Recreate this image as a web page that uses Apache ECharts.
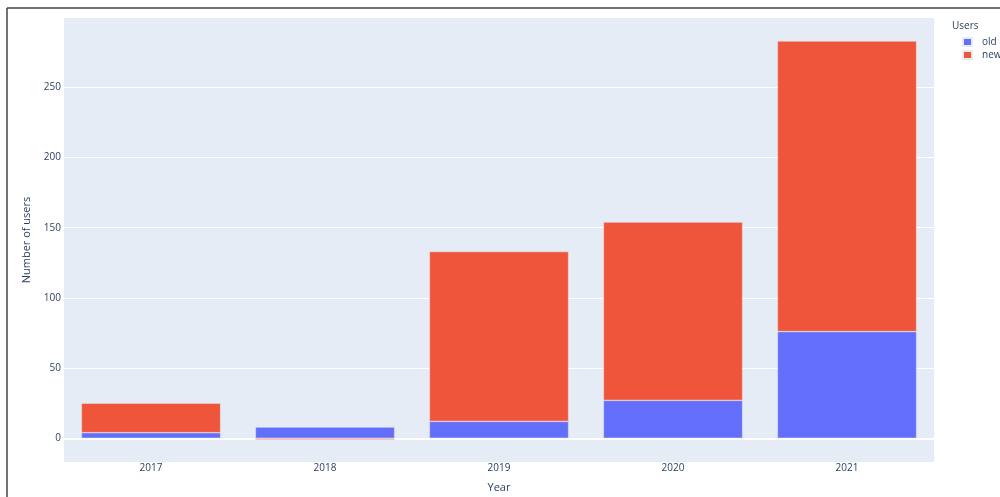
<!DOCTYPE html>
<html>
<head>
<meta charset="utf-8">
<script src="https://cdn.jsdelivr.net/npm/echarts@6/dist/echarts.min.js"></script>
<style>
html,body{margin:0;padding:0;background:#fff;}
#chart{width:1000px;height:497px;}
</style>
</head>
<body>
<div id="chart"></div>
<script>
const years = ['2017', '2018', '2019', '2020', '2021'];
const oldUsers = [4, 8, 12, 27, 76];
const newUsers = [21, -1, 121, 127, 207];
const legendTitle = 'Users';
const xTitle = 'Year';
const yTitle = 'Number of users';

const FONT = '"Open Sans", "Noto Sans", sans-serif';
const TXT = '#2a3f5f';

const chart = echarts.init(document.getElementById('chart'), null, {renderer: 'canvas'});
chart.setOption({
  animation: false,
  backgroundColor: '#fff',
  textStyle: {fontFamily: FONT, color: TXT},
  grid: {left: 64, top: 18, right: 66, bottom: 35, show: true, backgroundColor: '#E5ECF6', borderWidth: 0,
    containLabel: false, outerBoundsMode: 'none'},
  legend: {
    orient: 'vertical', left: 962, top: 37, padding: 0,
    itemWidth: 9, itemHeight: 8, itemGap: 3,
    icon: 'rect',
    data: ['old', 'new'],
    textStyle: {fontFamily: FONT, fontSize: 10, color: TXT, padding: [0, 0, 0, 5]}
  },
  graphic: [
    {type: 'text', left: 952, top: 21, style: {text: legendTitle, font: '10px ' + FONT, fill: TXT}},
    {type: 'line', shape: {x1: 7, y1: 8, x2: 7, y2: 497}, style: {stroke: '#444', lineWidth: 1.5}},
    {type: 'line', shape: {x1: 7, y1: 8, x2: 1000, y2: 8}, style: {stroke: '#444', lineWidth: 1.5}}
  ],
  xAxis: {
    type: 'category', data: years,
    axisLine: {show: false, onZero: false}, axisTick: {show: false},
    axisLabel: {fontFamily: FONT, fontSize: 10, color: TXT, margin: 1},
    name: xTitle, nameLocation: 'middle', nameGap: 20,
    nameTextStyle: {fontFamily: FONT, fontSize: 11, color: TXT}
  },
  yAxis: {
    type: 'value', min: -16.9, max: 299.4, splitNumber: 5,
    axisLine: {show: false}, axisTick: {show: false},
    axisLabel: {fontFamily: FONT, fontSize: 10, color: TXT, margin: 3, showMinLabel: false, showMaxLabel: false},
    splitLine: {show: true, showMinLine: false, showMaxLine: false, lineStyle: {color: '#fff', width: 1}},
    name: yTitle, nameLocation: 'middle', nameGap: 32, nameRotate: 90,
    nameTextStyle: {fontFamily: FONT, fontSize: 11, color: TXT}
  },
  series: [
    {
      name: 'zero', type: 'line', data: [], silent: true, z: 1,
      markLine: {silent: true, symbol: 'none', label: {show: false}, z: 1,
        lineStyle: {color: '#fff', width: 2, type: 'solid'}, data: [{yAxis: 0}]}
    },
    {
      name: 'old', type: 'bar', stack: 'users', data: oldUsers,
      barCategoryGap: '20%',
      itemStyle: {color: '#636EFA', borderColor: '#E5ECF6', borderWidth: 0.5},
      z: 3
    },
    {
      name: 'new', type: 'bar', stack: 'users', data: newUsers,
      barCategoryGap: '20%',
      itemStyle: {color: '#EF553B', borderColor: '#E5ECF6', borderWidth: 0.5},
      z: 3
    }
  ]
});
</script>
</body>
</html>
